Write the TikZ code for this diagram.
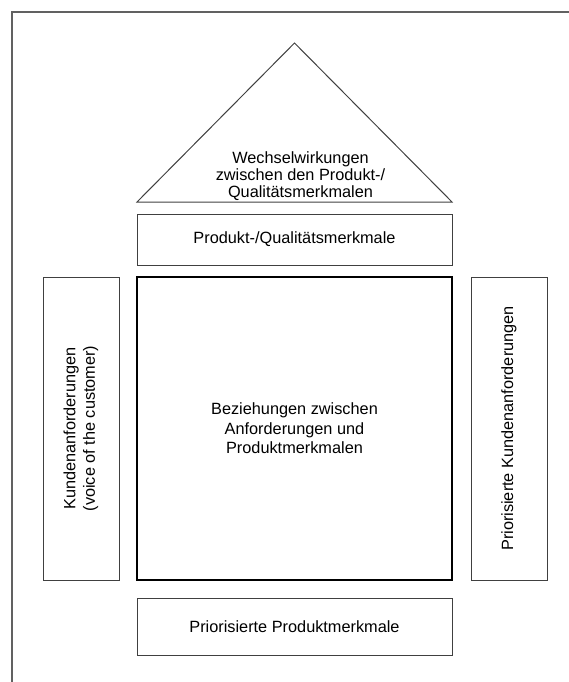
\documentclass[tikz,border=0pt]{standalone}
\usepackage{fontspec}
\setmainfont{Liberation Sans}
\begin{document}
\begin{tikzpicture}[x=1pt,y=-1pt,
  box/.style={draw=black!75, line width=1pt, inner sep=0pt, align=center,
    font=\fontsize{16.3}{19.5}\selectfont},
  mainbox/.style={box, draw=black, line width=2pt},
  frameline/.style={draw=black!62, line width=2pt}]
\useasboundingbox (0,0) rectangle (569,682);
% frame
\coordinate (fbl) at (12,690);
\coordinate (ftl) at (12,12);
\coordinate (ftr) at (575,12);
\draw[frameline] (fbl) -- (ftl) -- (ftr);
% roof
\coordinate (apex) at (294.5,43);
\coordinate (rl) at (137,202);
\coordinate (rr) at (452,202);
\draw[draw=black!75, line width=1pt, line join=miter] (rl) -- (apex) -- (rr) -- cycle;
\node[align=center, inner sep=0pt, font=\fontsize{16.3}{17}\selectfont] (roof) at (300.5,176)
  {Wechselwirkungen\\zwischen den Produkt-/\\Qualitätsmerkmalen};
% boxes
\node[box, minimum width=315pt, minimum height=51pt] (top) at (294.5,239.5) {Produkt-/Qualitätsmerkmale};
\node[mainbox, minimum width=315pt, minimum height=303pt] (center) at (294.5,428.5)
  {Beziehungen zwischen\\Anforderungen und\\Produktmerkmalen};
\node[box, rotate=90, minimum width=303pt, minimum height=76pt] (left) at (81,428.5)
  {Kundenanforderungen\\(voice of the customer)};
\node[box, rotate=90, minimum width=303pt, minimum height=76pt] (right) at (509,428.5)
  {Priorisierte Kundenanforderungen};
\node[box, minimum width=315pt, minimum height=57pt] (bottom) at (294.5,626.5) {Priorisierte Produktmerkmale};
\end{tikzpicture}
\end{document}
